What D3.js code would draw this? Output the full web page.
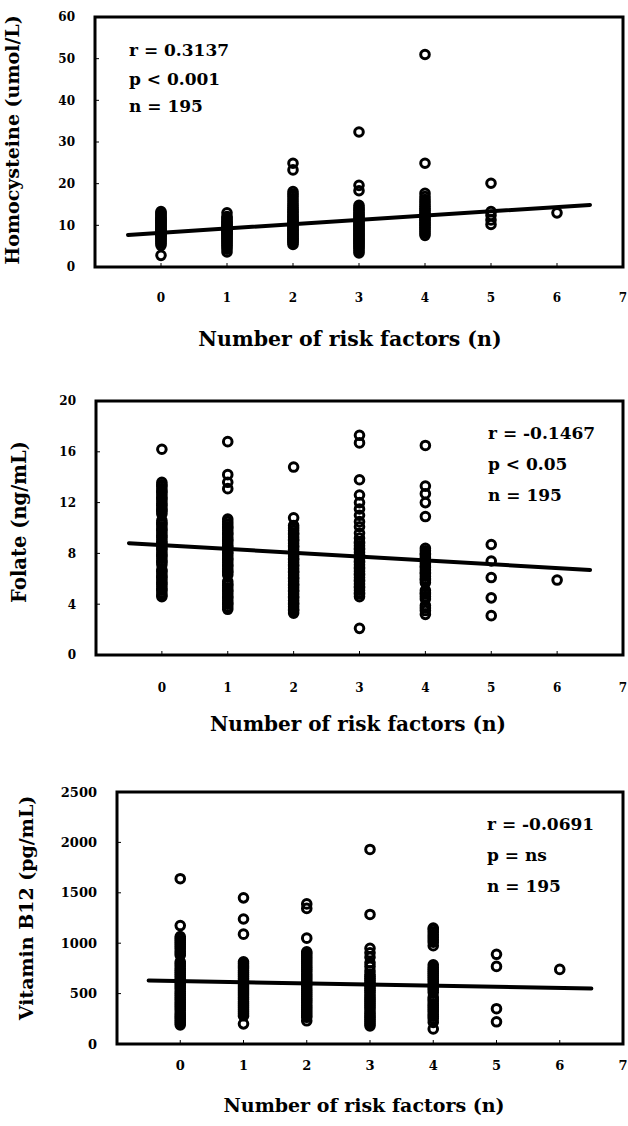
<!DOCTYPE html>
<html>
<head>
<meta charset="utf-8">
<script src="https://d3js.org/d3.v7.min.js"></script>
<style>
body { margin: 0; background: #fff; }
text { font-family: "DejaVu Serif", serif; font-weight: bold; fill: #000; }
</style>
</head>
<body>
<div id="chart"></div>
<script>
// categories on the x axis (number of risk factors)
var riskFactors = [0, 1, 2, 3, 4, 5, 6];
var xTicks = [0, 1, 2, 3, 4, 5, 6, 7];

// homocysteine (umol/L), one list per risk-factor group
var hcyValues = [
  [2.8, 5.2, 5.7, 6.0, 6.4, 6.7, 7.1, 7.3, 7.6, 7.9, 8.0, 8.3, 8.5, 8.8, 9.0, 9.2, 9.5, 9.8, 10.0, 10.3, 10.6, 10.8, 11.1, 11.4, 11.6, 11.9, 12.3, 12.6, 13.0, 13.3],
  [3.6, 4.3, 4.8, 5.2, 5.6, 6.0, 6.3, 6.7, 7.0, 7.3, 7.6, 7.9, 8.1, 8.4, 8.7, 8.9, 9.2, 9.5, 9.8, 10.1, 10.4, 10.7, 11.0, 11.4, 11.8, 12.1, 13.0],
  [5.4, 5.8, 6.2, 6.4, 6.8, 7.0, 7.3, 7.7, 7.9, 8.2, 8.6, 8.8, 9.1, 9.4, 9.8, 10.0, 10.3, 10.6, 10.9, 11.2, 11.5, 11.9, 12.2, 12.6, 13.0, 13.4, 13.8, 14.2, 14.7, 15.2, 15.8, 16.4, 17.0, 17.5, 18.1, 23.3, 24.9],
  [3.4, 3.9, 4.4, 4.8, 5.1, 5.5, 5.8, 6.1, 6.4, 6.7, 7.0, 7.3, 7.6, 7.9, 8.2, 8.5, 8.8, 9.1, 9.4, 9.7, 10.0, 10.3, 10.6, 11.0, 11.3, 11.6, 12.0, 12.3, 12.7, 13.1, 13.5, 13.9, 14.3, 14.8, 18.3, 19.6, 32.4],
  [7.6, 8.1, 8.6, 9.1, 9.5, 9.9, 10.3, 10.7, 11.1, 11.5, 11.9, 12.3, 12.7, 13.1, 13.6, 14.0, 14.5, 15.0, 15.6, 16.2, 16.9, 17.7, 24.9, 51.0],
  [10.2, 11.3, 12.4, 13.3, 20.1],
  [13.0]
];

// folate (ng/mL)
var folateValues = [
  [4.6, 4.7, 4.9, 5.1, 5.2, 5.4, 5.6, 5.7, 5.9, 6.1, 6.2, 6.4, 6.6, 6.7, 7.1, 7.3, 7.4, 7.6, 7.8, 7.9, 8.1, 8.3, 8.4, 8.6, 8.8, 8.9, 9.1, 9.3, 9.4, 9.6, 9.8, 9.9, 10.1, 10.3, 10.4, 10.6, 11.1, 11.3, 11.4, 11.6, 11.8, 11.9, 12.1, 12.3, 12.4, 12.6, 12.8, 12.9, 13.1, 13.3, 13.4, 13.6, 16.2],
  [3.6, 3.8, 4.0, 4.1, 4.3, 4.5, 4.6, 4.8, 5.0, 5.1, 5.3, 5.5, 5.6, 5.8, 6.3, 6.5, 6.6, 6.8, 7.0, 7.1, 7.3, 7.5, 7.6, 7.8, 8.0, 8.1, 8.3, 8.5, 8.6, 8.8, 9.0, 9.1, 9.3, 9.5, 9.6, 9.8, 10.0, 10.1, 10.3, 10.5, 10.7, 13.1, 13.6, 14.2, 16.8],
  [3.3, 3.5, 3.6, 3.8, 4.0, 4.1, 4.3, 4.5, 4.6, 4.8, 5.0, 5.1, 5.3, 5.5, 5.6, 5.8, 6.0, 6.1, 6.3, 6.5, 6.6, 6.8, 7.0, 7.1, 7.3, 7.5, 7.6, 7.8, 8.0, 8.1, 8.3, 8.5, 8.6, 8.8, 9.0, 9.1, 9.3, 9.5, 9.6, 9.8, 10.0, 10.2, 10.8, 14.8],
  [2.1, 4.6, 4.8, 4.9, 5.1, 5.3, 5.4, 5.6, 5.8, 5.9, 6.1, 6.3, 6.4, 6.6, 6.8, 6.9, 7.1, 7.3, 7.4, 7.6, 7.8, 7.9, 8.1, 8.3, 8.4, 8.6, 8.8, 8.9, 9.2, 9.6, 10.1, 10.5, 11.0, 11.5, 12.0, 12.6, 13.8, 16.7, 17.3],
  [3.2, 3.5, 3.7, 3.9, 4.4, 4.6, 4.8, 4.9, 5.1, 5.7, 5.9, 6.0, 6.2, 6.4, 6.5, 6.7, 6.9, 7.0, 7.2, 7.4, 7.5, 7.7, 7.9, 8.0, 8.2, 8.4, 10.9, 12.0, 12.7, 13.3, 16.5],
  [3.1, 4.5, 6.1, 7.4, 8.7],
  [5.9]
];

// vitamin B12 (pg/mL)
var b12Values = [
  [190, 210, 230, 250, 270, 290, 310, 335, 355, 375, 395, 415, 440, 460, 480, 500, 520, 545, 565, 585, 605, 625, 650, 670, 690, 710, 730, 750, 775, 795, 815, 880, 900, 920, 945, 965, 985, 1005, 1025, 1045, 1065, 1175, 1640],
  [200, 280, 300, 320, 340, 360, 380, 400, 420, 445, 465, 485, 505, 525, 545, 565, 585, 610, 630, 650, 670, 690, 710, 730, 755, 775, 795, 815, 1090, 1240, 1450],
  [230, 265, 285, 305, 325, 345, 365, 385, 410, 430, 450, 470, 490, 510, 530, 550, 575, 595, 615, 635, 655, 675, 695, 720, 740, 760, 780, 800, 820, 840, 860, 880, 900, 915, 1050, 1345, 1390],
  [180, 200, 220, 240, 260, 280, 300, 320, 345, 365, 385, 405, 425, 445, 465, 485, 510, 530, 550, 570, 590, 610, 630, 650, 670, 690, 725, 770, 805, 860, 905, 950, 1285, 1930],
  [150, 215, 250, 275, 295, 320, 340, 360, 380, 400, 425, 445, 465, 510, 535, 555, 575, 595, 620, 640, 660, 680, 700, 720, 740, 760, 785, 975, 1010, 1035, 1060, 1085, 1110, 1135, 1150],
  [220, 350, 770, 890],
  [740]
];

// y tick labels
var hcyTicks = [0, 10, 20, 30, 40, 50, 60];
var folateTicks = [0, 4, 8, 12, 16, 20];
var b12Ticks = [0, 500, 1000, 1500, 2000, 2500];

// regression lines, end points
var fitX = [-0.5, 6.5];
var hcyFit = [7.7, 14.9];
var folateFit = [8.8, 6.7];
var b12Fit = [630, 550];

// statistics text
var hcyStats = ["r = 0.3137", "p < 0.001", "n = 195"];
var folateStats = ["r = -0.1467", "p < 0.05", "n = 195"];
var b12Stats = ["r = -0.0691", "p = ns", "n = 195"];

var panels = [
  {values: hcyValues, ticks: hcyTicks, fit: hcyFit, stats: hcyStats, yTitle: "Homocysteine (umol/L)",
   x0: 95, x1: 623, y0: 17, y1: 267, tickFont: 12, tickBase: 302, titleX: 350, titleBase: 346, titleFont: 20.5,
   yTitleX: 19, yTitleY: 140, yTitleFont: 19, statX: 129, statBase: [56, 85, 112], statFont: 17},
  {values: folateValues, ticks: folateTicks, fit: folateFit, stats: folateStats, yTitle: "Folate (ng/mL)",
   x0: 96, x1: 623, y0: 401, y1: 655, tickFont: 12, tickBase: 692, titleX: 358, titleBase: 731, titleFont: 20,
   yTitleX: 26, yTitleY: 522, yTitleFont: 19.5, statX: 488, statBase: [439, 470, 501], statFont: 17},
  {values: b12Values, ticks: b12Ticks, fit: b12Fit, stats: b12Stats, yTitle: "Vitamin B12 (pg/mL)",
   x0: 117, x1: 623, y0: 792, y1: 1044, tickFont: 13, tickBase: 1070, titleX: 364, titleBase: 1112, titleFont: 19,
   yTitleX: 33, yTitleY: 908, yTitleFont: 19, statX: 487, statBase: [830, 861, 892], statFont: 17}
];

var svg = d3.select("#chart").append("svg")
    .attr("width", 628)
    .attr("height", 1126)
    .style("background", "#fff");

panels.forEach(function(p) {
  var g = svg.append("g");

  var x = d3.scaleLinear().domain([-1, 7]).range([p.x0, p.x1]);
  var y = d3.scaleLinear().domain([0, p.ticks[p.ticks.length - 1]]).range([p.y1, p.y0]);

  // open circles, one column per group
  p.values.forEach(function(vals, i) {
    g.selectAll(null)
      .data(vals)
      .enter()
      .append("circle")
      .attr("cx", x(riskFactors[i]))
      .attr("cy", function(d) { return y(d); })
      .attr("r", 4.3)
      .attr("fill", "none")
      .attr("stroke", "#000")
      .attr("stroke-width", 3);
  });

  // regression line
  var line = d3.line()
    .x(function(d, i) { return x(fitX[i]); })
    .y(function(d) { return y(d); });
  g.append("path")
    .datum(p.fit)
    .attr("d", line)
    .attr("fill", "none")
    .attr("stroke", "#000")
    .attr("stroke-width", 4)
    .attr("stroke-linecap", "round");

  // frame
  g.append("rect")
    .attr("x", p.x0)
    .attr("y", p.y0)
    .attr("width", p.x1 - p.x0)
    .attr("height", p.y1 - p.y0)
    .attr("fill", "none")
    .attr("stroke", "#000")
    .attr("stroke-width", 3);

  // small inside ticks
  g.selectAll(null)
    .data(xTicks.slice(0, -1))
    .enter()
    .append("line")
    .attr("x1", function(d) { return x(d); })
    .attr("x2", function(d) { return x(d); })
    .attr("y1", p.y1)
    .attr("y2", p.y1 - 4)
    .attr("stroke", "#000")
    .attr("stroke-width", 1);
  g.selectAll(null)
    .data(p.ticks)
    .enter()
    .append("line")
    .attr("x1", p.x0)
    .attr("x2", p.x0 + 4)
    .attr("y1", function(d) { return y(d); })
    .attr("y2", function(d) { return y(d); })
    .attr("stroke", "#000")
    .attr("stroke-width", 1);

  // tick labels
  g.selectAll(null)
    .data(xTicks)
    .enter()
    .append("text")
    .attr("x", function(d) { return x(d); })
    .attr("y", p.tickBase)
    .attr("text-anchor", "middle")
    .style("font-size", p.tickFont + "px")
    .text(function(d) { return d; });
  g.selectAll(null)
    .data(p.ticks)
    .enter()
    .append("text")
    .attr("x", p.x0 - 20)
    .attr("y", function(d) { return y(d); })
    .attr("dy", "0.36em")
    .attr("text-anchor", "end")
    .style("font-size", p.tickFont + "px")
    .text(function(d) { return d; });

  // axis titles
  g.append("text")
    .attr("x", p.titleX)
    .attr("y", p.titleBase)
    .attr("text-anchor", "middle")
    .style("font-size", p.titleFont + "px")
    .text("Number of risk factors (n)");
  g.append("text")
    .attr("transform", "translate(" + p.yTitleX + "," + p.yTitleY + ") rotate(-90)")
    .attr("text-anchor", "middle")
    .style("font-size", p.yTitleFont + "px")
    .text(p.yTitle);

  // r, p, n
  g.selectAll(null)
    .data(p.stats)
    .enter()
    .append("text")
    .attr("x", p.statX)
    .attr("y", function(d, i) { return p.statBase[i]; })
    .style("font-size", p.statFont + "px")
    .text(function(d) { return d; });
});
</script>
</body>
</html>
